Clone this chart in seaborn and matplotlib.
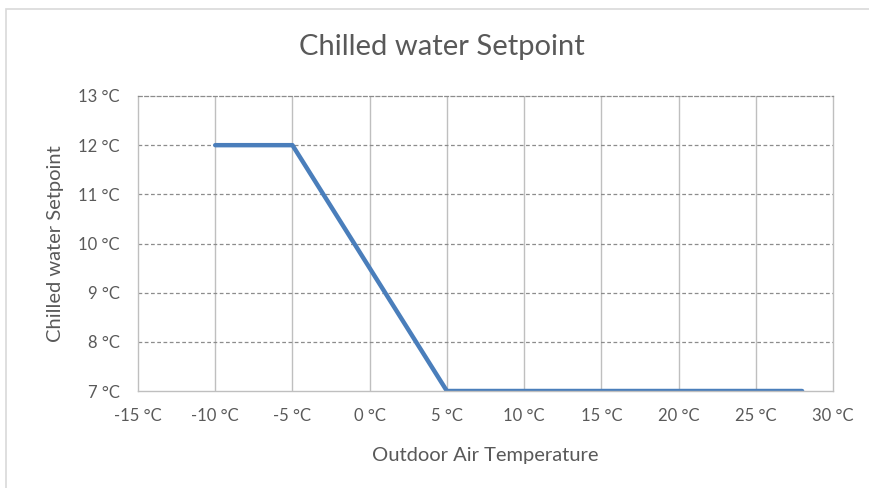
import matplotlib
matplotlib.use("Agg")
import matplotlib.pyplot as plt
from matplotlib.patches import Rectangle
import seaborn as sns
import pandas as pd

outdoor_temp = [-10, -5, 5, 28]
setpoint = [12, 12, 7, 7]
x_ticks = [-15, -10, -5, 0, 5, 10, 15, 20, 25, 30]
y_ticks = [7, 8, 9, 10, 11, 12, 13]

sns.set_theme(style="white")
plt.rcParams['font.family'] = ['Lato', 'DejaVu Sans']

df = pd.DataFrame({"Outdoor Air Temperature": outdoor_temp,
                   "Chilled water Setpoint": setpoint})

fig = plt.figure(figsize=(8.7, 4.88), dpi=100)
fig.patches.append(Rectangle((6/870, -0.01), 1.0, 1 - 9/488 + 0.01, transform=fig.transFigure,
                             fill=False, edgecolor="#d9d9d9", linewidth=1.2))
ax = fig.add_axes([138/870, 1 - 391/488, (833 - 138)/870, (391 - 96)/488])

sns.lineplot(data=df, x="Outdoor Air Temperature", y="Chilled water Setpoint",
             ax=ax, color="#4a7ebb", linewidth=3.2, sort=False)

ax.set_xlim(-15, 30)
ax.set_ylim(7, 13)
ax.set_xticks(x_ticks)
ax.set_yticks(y_ticks)
ax.set_xticklabels([f"{t} °C" for t in x_ticks])
ax.set_yticklabels([f"{t} °C" for t in y_ticks])
ax.tick_params(axis="both", length=0, labelsize=12, colors="#595959")
ax.tick_params(axis="x", pad=12)
ax.tick_params(axis="y", pad=13)

ax.grid(False)
for t in x_ticks[1:-1]:
    ax.axvline(t, color="#bfbfbf", linewidth=1.0, zorder=0)
for t in y_ticks[1:-1]:
    ax.axhline(t, color="#8c8c8c", linewidth=0.9, linestyle=(0, (3, 2)), zorder=0)

for side in ["left", "bottom", "right"]:
    ax.spines[side].set_visible(True)
    ax.spines[side].set_color("#bfbfbf")
    ax.spines[side].set_linewidth(1.0)
ax.spines["top"].set_color("#8c8c8c")
ax.spines["top"].set_linestyle((0, (3, 2)))
ax.spines["top"].set_linewidth(0.9)

ax.set_xlabel("Outdoor Air Temperature", fontsize=14.5, color="#595959")
ax.set_ylabel("Chilled water Setpoint", fontsize=14.5, color="#595959")
ax.xaxis.set_label_coords(0.5, (391 - 455) / 295)
ax.xaxis.label.set_va("center")
ax.yaxis.set_label_coords((55 - 138) / 695, 0.5)
ax.yaxis.label.set_va("center")
fig.text(0.508, 1 - 47/488, "Chilled water Setpoint", ha="center", va="center",
         fontsize=21, color="#595959")

fig.savefig("out.png", dpi=100)
